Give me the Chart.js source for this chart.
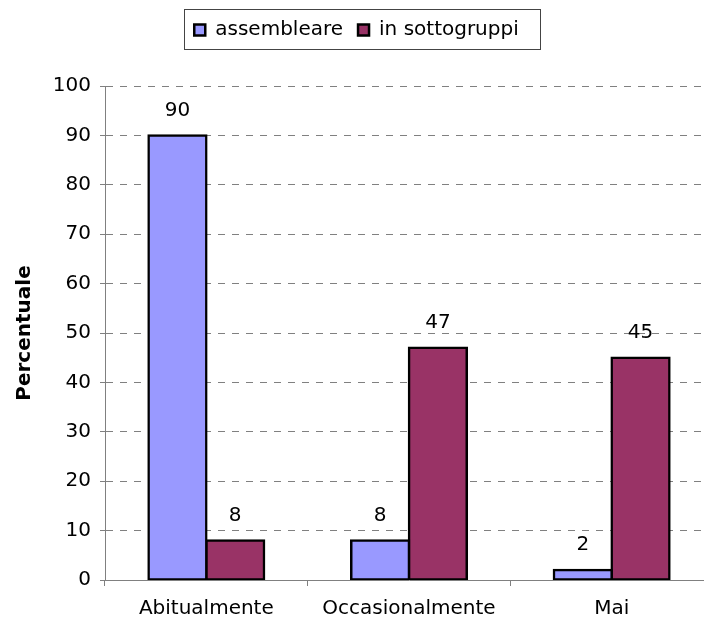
<!DOCTYPE html>
<html lang="it">
<head>
  <meta charset="UTF-8">
  <title>Percentuale</title>
  <script src="https://cdn.jsdelivr.net/npm/chart.js"></script>
  <style>
    html, body { margin: 0; padding: 0; background: #fff; overflow: hidden; }
    canvas { display: block; }
  </style>
</head>
<body>
  <canvas id="chart" width="720" height="621"></canvas>
  <script>
    const categories = ["Abitualmente", "Occasionalmente", "Mai"];
    const assembleare = [90, 8, 2];
    const sottogruppi = [8, 47, 45];
    const seriesNames = ["assembleare", "in sottogruppi"];

    Chart.defaults.font.family = "'DejaVu Sans', Verdana, sans-serif";
    Chart.defaults.font.size = 20;
    Chart.defaults.color = "#000";

    // value labels above each bar
    const barLabels = {
      id: "barLabels",
      afterDatasetsDraw(chart) {
        const ctx = chart.ctx;
        ctx.save();
        ctx.font = "20px 'DejaVu Sans', Verdana, sans-serif";
        ctx.fillStyle = "#000";
        ctx.textAlign = "center";
        ctx.textBaseline = "middle";
        chart.data.datasets.forEach((ds, i) => {
          chart.getDatasetMeta(i).data.forEach((bar, j) => {
            ctx.fillText(ds.data[j], bar.x, bar.y - 25);
          });
        });
        ctx.restore();
      }
    };

    // taller legend box + frame around it
    const legendFrame = {
      id: "legendFrame",
      beforeInit(chart) {
        const fit = chart.legend.fit;
        chart.legend.fit = function () {
          fit.call(this);
          this.height = 81;
        };
      },
      afterDraw(chart) {
        const boxes = chart.legend.legendHitBoxes;
        if (!boxes || !boxes.length) return;
        const left = boxes[0].left - 10;
        const last = boxes[boxes.length - 1];
        const right = last.left + last.width + 22;
        const ctx = chart.ctx;
        ctx.save();
        ctx.strokeStyle = "#444";
        ctx.lineWidth = 1;
        ctx.strokeRect(Math.round(left) + 0.5, 9.5, Math.round(right - left), 40);
        ctx.restore();
      }
    };

    new Chart(document.getElementById("chart"), {
      type: "bar",
      data: {
        labels: categories,
        datasets: [
          {
            label: seriesNames[0],
            data: assembleare,
            backgroundColor: "#9999FF",
            borderColor: "#000",
            borderWidth: 2.5,
            borderSkipped: false,
            inflateAmount: 1.25
          },
          {
            label: seriesNames[1],
            data: sottogruppi,
            backgroundColor: "#993366",
            borderColor: "#000",
            borderWidth: 2.5,
            borderSkipped: false,
            inflateAmount: 1.25
          }
        ]
      },
      options: {
        responsive: false,
        animation: false,
        layout: { padding: { left: 0, right: 7, top: 5, bottom: 0 } },
        datasets: {
          bar: { categoryPercentage: 0.57, barPercentage: 1.0 }
        },
        plugins: {
          tooltip: { enabled: false },
          legend: {
            position: "top",
            labels: {
              boxWidth: 11,
              boxHeight: 11,
              padding: 15,
              font: { size: 20 },
              color: "#000"
            }
          }
        },
        scales: {
          x: {
            grid: {
              display: true,
              drawOnChartArea: false,
              offset: true,
              tickLength: 6,
              color: "#808080"
            },
            border: { display: true, color: "#808080", width: 1 },
            ticks: { padding: 11, color: "#000", font: { size: 20 } },
            afterFit(scale) { scale.height = 41; }
          },
          y: {
            min: 0,
            max: 100,
            ticks: { stepSize: 10, padding: 9, color: "#000", font: { size: 20 } },
            grid: {
              color: "#808080",
              tickLength: 5,
              tickColor: "#808080",
              tickBorderDash: []
            },
            border: { display: true, color: "#808080", width: 1, dash: [7, 7] },
            title: {
              display: true,
              text: "Percentuale",
              color: "#000",
              font: { size: 20, weight: "bold" },
              padding: { top: 13, bottom: 0 }
            },
            afterFit(scale) { scale.width = 105; }
          }
        }
      },
      plugins: [barLabels, legendFrame]
    });
  </script>
</body>
</html>
